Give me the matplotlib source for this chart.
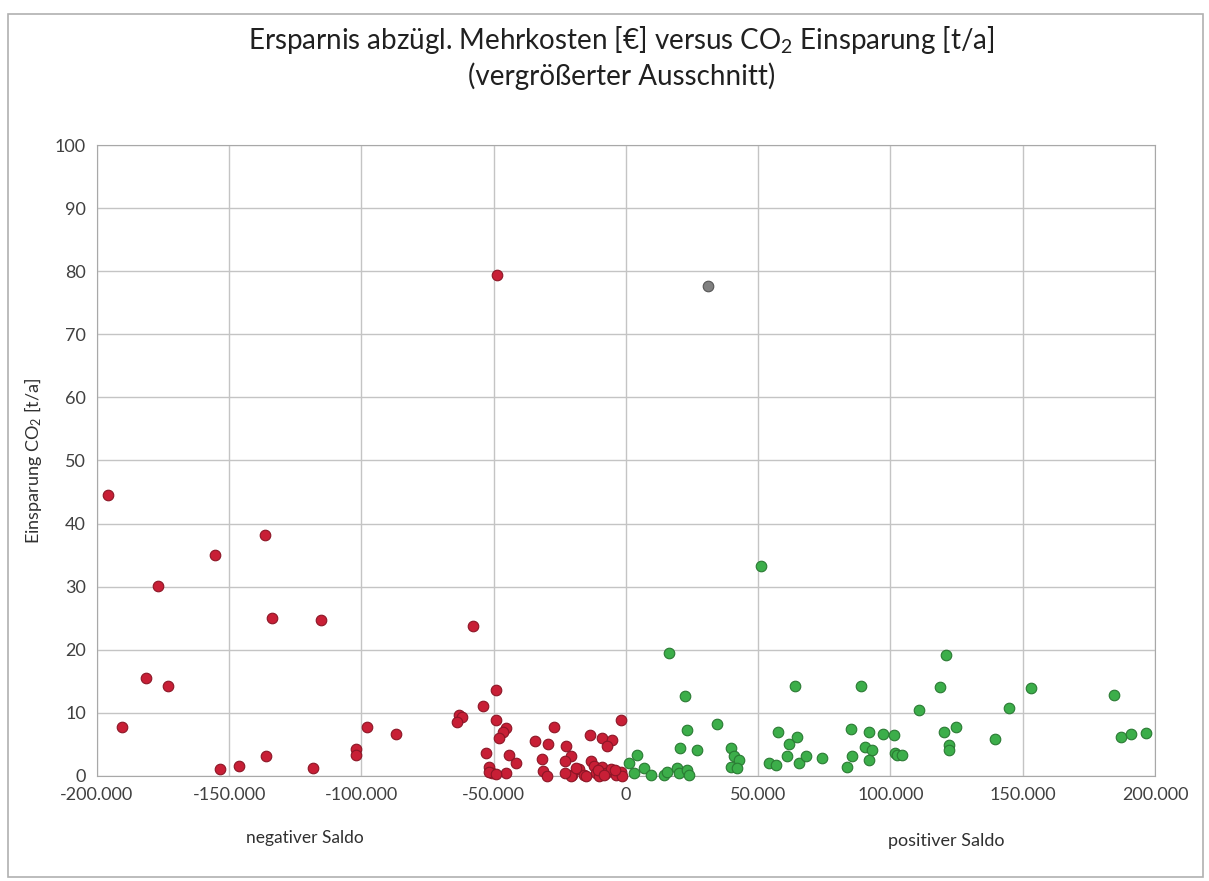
import matplotlib
matplotlib.use('Agg')
import matplotlib.pyplot as plt
from matplotlib.ticker import FuncFormatter, MultipleLocator
from matplotlib.patches import Rectangle

# negativer Saldo (rot)
red_x = [-195700, -190600, -181600, -176800, -173000, -155400, -153600, -146300,
         -136600, -136200, -133900, -118200, -115200, -102200, -102200, -97800,
         -87000, -63100, -62000, -64000, -57700, -53900, -49300, -48700, -49300,
         -45500, -46500, -48000, -53000, -44200, -41700, -51800, -50500, -51800,
         -45500, -49300, -34500, -29400, -27100, -31600, -31300, -30000, -22600,
         -20900, -23000, -13600, -9000, -5200, -7100, -2000, -20300, -17800,
         -15900, -13400, -12100, -11500, -10200, -9000, -7700, -5800, -3900,
         -2000, -1400, -20900, -15200, -19000, -10500, -4000, -8200, -23000]
red_y = [44.5, 7.7, 15.6, 30.1, 14.3, 35.0, 1.1, 1.6,
         38.2, 3.2, 25.0, 1.2, 24.7, 4.2, 3.4, 7.7,
         6.6, 9.7, 9.4, 8.6, 23.8, 11.1, 13.6, 79.4, 8.8,
         7.6, 6.9, 6.0, 3.6, 3.3, 2.1, 1.5, 0.4, 0.7,
         0.55, 0.3, 5.5, 5.1, 7.8, 2.7, 0.8, 0.0, 4.7,
         3.2, 2.4, 6.5, 6.0, 5.7, 4.8, 8.9, 0.2, 1.1,
         0.1, 2.4, 1.6, 0.4, 0.0, 1.5, 0.5, 1.1, 0.1,
         0.7, 0.0, 0.0, 0.0, 1.3, 0.9, 0.9, 0.1, 0.4]

# positiver Saldo (gruen)
green_x = [16300, 22200, 63800, 88700, 23200, 34300, 20400, 26700, 39800, 40800,
           42700, 39600, 42100, 4300, 1100, 6800, 3000, 9300, 14400, 15600,
           19400, 20000, 23200, 23800, 57600, 61600, 64800, 60700, 54100, 56600,
           65400, 67900, 74200, 85200, 91900, 97100, 101300, 90500, 92900, 85500,
           91900, 83600, 101900, 51000, 121100, 118600, 153000, 184500, 110800, 144800,
           120200, 124900, 122100, 122100, 139400, 102600, 104500, 187000, 191100, 196800]
green_y = [19.5, 12.6, 14.3, 14.2, 7.3, 8.2, 4.4, 4.1, 4.4, 3.1,
           2.5, 1.5, 1.2, 3.3, 2.0, 1.2, 0.4, 0.2, 0.2, 0.7,
           1.2, 0.4, 0.95, 0.2, 6.9, 5.1, 6.2, 3.1, 2.1, 1.7,
           2.1, 3.1, 2.8, 7.4, 7.0, 6.7, 6.5, 4.65, 4.1, 3.1,
           2.6, 1.5, 3.6, 33.3, 19.2, 14.1, 13.9, 12.8, 10.5, 10.8,
           7.0, 7.8, 4.9, 4.1, 5.8, 3.4, 3.3, 6.2, 6.7, 6.8]

# grauer Punkt
gray_x = [30900]
gray_y = [77.6]

xticks = [-200000, -150000, -100000, -50000, 0, 50000, 100000, 150000, 200000]

plt.rcParams['font.family'] = ['Lato', 'DejaVu Sans']
plt.rcParams['mathtext.fontset'] = 'custom'
plt.rcParams['mathtext.rm'] = 'Lato'
plt.rcParams['mathtext.it'] = 'Lato'

fig = plt.figure(figsize=(12.09, 8.81), dpi=100)
fig.patch.set_facecolor('white')
fig.patches.append(Rectangle((0.007, 0.004), 0.988, 0.98, transform=fig.transFigure,
                             fill=False, edgecolor='#b0b0b0', linewidth=1.2))

ax = fig.add_axes([0.0802, 0.1192, 0.8751, 0.7162])

ax.scatter(red_x, red_y, s=58, color='#c81f36', edgecolors='#8c1626', linewidths=0.8, zorder=3, clip_on=False)
ax.scatter(green_x, green_y, s=58, color='#3cae4a', edgecolors='#2a7a33', linewidths=0.8, zorder=3, clip_on=False)
ax.scatter(gray_x, gray_y, s=58, color='#808080', edgecolors='#555555', linewidths=0.8, zorder=3)

ax.set_xlim(-200000, 200000)
ax.set_ylim(0, 100)
ax.set_xticks(xticks)
ax.yaxis.set_major_locator(MultipleLocator(10))
ax.xaxis.set_major_formatter(FuncFormatter(lambda v, p: f'{int(v):,}'.replace(',', '.')))
ax.grid(True, color='#c4c4c4', linewidth=1.0)
ax.set_axisbelow(True)
for s in ax.spines.values():
    s.set_color('#a8a8a8')
ax.tick_params(length=0, labelsize=13, colors='#404040', pad=8)

ax.set_ylabel('Einsparung CO$_2$ [t/a]', fontsize=13, color='#303030', labelpad=8)
fig.text(0.514, 0.955, 'Ersparnis abzügl. Mehrkosten [€] versus CO$_2$ Einsparung [t/a]',
         ha='center', va='center', fontsize=20, color='#202020')
fig.text(0.514, 0.914, '(vergrößerter Ausschnitt)', ha='center', va='center',
         fontsize=20, color='#202020')
fig.text(0.252, 0.049, 'negativer Saldo', ha='center', va='center', fontsize=12.5, color='#303030')
fig.text(0.783, 0.045, 'positiver Saldo', ha='center', va='center', fontsize=13, color='#303030')

fig.savefig('out.png', dpi=100)
